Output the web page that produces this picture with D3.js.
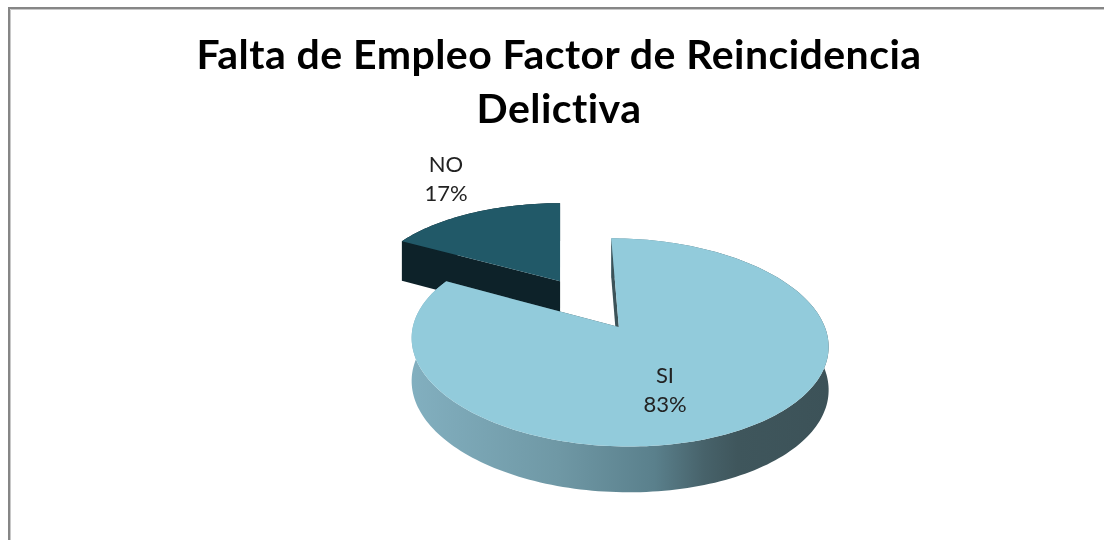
<!DOCTYPE html>
<html>
<head>
<meta charset="utf-8">
<script src="https://cdn.jsdelivr.net/npm/d3@7"></script>
<style>
  html, body { margin: 0; padding: 0; background: #fff; }
  svg { display: block; filter: blur(0.4px); }
  text { font-family: Lato, "Open Sans", sans-serif; font-variant-ligatures: none; }
</style>
</head>
<body>
<div id="chart"></div>
<script>
// Slices and labels
var categories = ['SI', 'NO'];
var values = [83, 17];
var titleLines = ['Falta de Empleo Factor de Reincidencia', 'Delictiva'];

var topColors = ['#92cbdb', '#215968'];
var wallColors = ['url(#si-wall)', '#0d2229'];
var edgeColors = ['#3c5359', '#0d2229'];

var width = 1104;
var height = 540;

var svg = d3.select('#chart').append('svg')
    .attr('width', width)
    .attr('height', height);

// Frame: only top and left edges fall inside the crop
svg.append('path')
    .attr('d', 'M9,540V8H1104')
    .attr('fill', 'none')
    .attr('stroke', '#868686')
    .attr('stroke-width', 2);
svg.append('path')
    .attr('d', 'M10.5,540V9.5H1104')
    .attr('fill', 'none')
    .attr('stroke', '#c8c8c8')
    .attr('stroke-width', 1);

// Side wall shading of the big slice
var grad = svg.append('defs').append('linearGradient')
    .attr('id', 'si-wall')
    .attr('gradientUnits', 'userSpaceOnUse')
    .attr('x1', 413).attr('x2', 829)
    .attr('y1', 0).attr('y2', 0);
grad.append('stop').attr('offset', '0%').attr('stop-color', '#82afbf');
grad.append('stop').attr('offset', '35%').attr('stop-color', '#6f98a5');
grad.append('stop').attr('offset', '58%').attr('stop-color', '#5a808c');
grad.append('stop').attr('offset', '70%').attr('stop-color', '#47626a');
grad.append('stop').attr('offset', '78%').attr('stop-color', '#3f565c');
grad.append('stop').attr('offset', '100%').attr('stop-color', '#3c5258');

// Perspective view of the pie plane. Plane units: pie radius = 1
var VX = 560, VY = 303.4;     // screen position of the plane origin
var SX = 199, SY = 95;        // horizontal / vertical scale
var K = 0.142;                // foreshortening with distance
var LIFT = 43, M = 0.028;     // thickness of the pie
var X0 = 0.143;               // sideways offset of the plane origin
var EXPLODE = 0.28;           // how far each slice is pulled out

function project(x, y, bottom) {
    var w = 1 + K * y;
    if (!bottom) return [VX + (x + X0) * SX / w, VY - SY * y / w];
    return [VX + (x + X0) * SX / w, VY + (LIFT - SY * y) / (w + M)];
}

var pie = d3.pie().sort(null).startAngle(0).endAngle(2 * Math.PI);
var arcs = pie(values);
var line = d3.line();

function sliceGeometry(d) {
    var mid = (d.startAngle + d.endAngle) / 2;
    var ax = EXPLODE * Math.sin(mid);
    var ay = EXPLODE * Math.cos(mid);
    var n = Math.ceil((d.endAngle - d.startAngle) * 40);
    var angles = d3.range(n + 1).map(function(i) {
        return d.startAngle + (d.endAngle - d.startAngle) * i / n;
    });
    var rim = angles.map(function(a) {
        return [ax + Math.sin(a), ay + Math.cos(a)];
    });
    return { ax: ax, ay: ay, mid: mid, rim: rim };
}

function pt(p, bottom) { return project(p[0], p[1], bottom); }

function drawSlice(i) {
    var g = sliceGeometry(arcs[i]);
    var apex = [g.ax, g.ay];
    var rimTop = g.rim.map(function(p) { return pt(p, false); });
    var rimBottom = g.rim.map(function(p) { return pt(p, true); });
    var first = g.rim[0];
    var last = g.rim[g.rim.length - 1];
    var group = svg.append('g').attr('class', 'slice-' + categories[i]);

    // Outer wall
    group.append('path')
        .attr('d', line(rimTop.concat(rimBottom.slice().reverse())) + 'Z')
        .attr('fill', wallColors[i]);

    // The two cut faces
    [first, last].forEach(function(p) {
        var quad = [pt(apex, false), pt(p, false), pt(p, true), pt(apex, true)];
        group.append('path')
            .attr('d', line(quad) + 'Z')
            .attr('fill', edgeColors[i]);
    });

    // Top face
    var face = [pt(apex, false)].concat(rimTop);
    group.append('path')
        .attr('d', line(face) + 'Z')
        .attr('fill', topColors[i]);
}

// Back slice first, the big one overlaps it
drawSlice(1);
drawSlice(0);

// Title
svg.append('g').selectAll('text')
    .data(titleLines)
    .enter()
    .append('text')
    .attr('x', 559)
    .attr('y', function(d, i) { return 69 + i * 54; })
    .attr('text-anchor', 'middle')
    .attr('font-size', 41)
    .attr('letter-spacing', 0.45)
    .attr('font-weight', 700)
    .attr('fill', '#000')
    .text(function(d) { return d; });

// Data labels
function pct(i) {
    return Math.round(100 * values[i] / d3.sum(values)) + '%';
}

var labelAt = [[665, 383], [446, 172]];
categories.forEach(function(name, i) {
    var label = svg.append('text')
        .attr('text-anchor', 'middle')
        .attr('font-size', 22)
        .attr('fill', '#222');
    label.append('tspan')
        .attr('x', labelAt[i][0])
        .attr('y', labelAt[i][1])
        .text(name);
    label.append('tspan')
        .attr('x', labelAt[i][0])
        .attr('y', labelAt[i][1] + 29)
        .text(pct(i));
});
</script>
</body>
</html>
